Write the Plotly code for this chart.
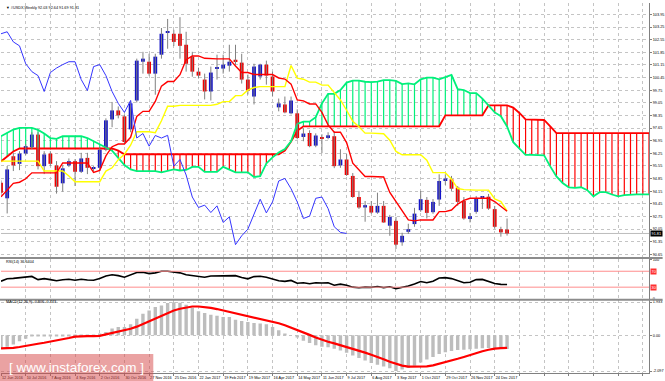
import plotly.graph_objects as go

# ---------------- data ----------------
TITLE = "#USDX,Weekly 92.03 92.64 91.69 91.81"
LAST_PRICE = 91.81

# weekly bars, first bar = week of 12 Jun 2016
OPEN = [94.62, 93.76, 96.09, 95.67, 96.24, 96.59, 97.29, 95.54, 96.24, 95.58,
        94.59, 95.58, 95.82, 95.23, 96.00, 95.40, 95.45, 96.46, 98.13, 98.63,
        98.30, 97.58, 99.18, 101.33, 101.33, 100.67, 101.72, 102.95, 102.88, 102.88,
        102.27, 101.61, 100.78, 100.34, 99.68, 100.95, 100.95, 101.11, 101.44, 101.28,
        100.34, 99.40, 100.51, 101.17, 100.51, 98.80, 98.96, 98.47, 98.47, 97.16,
        97.38, 96.68, 97.13, 97.10, 97.20, 95.58, 95.91, 95.00, 93.83, 93.25,
        93.34, 92.97, 93.34, 92.24, 92.51, 91.32, 91.90, 92.33, 93.10, 93.67,
        92.99, 93.69, 94.75, 94.81, 94.35, 93.61, 92.66, 93.01, 93.80, 93.85,
        93.16, 92.05, 92.03]
HIGH = [94.75, 95.55, 96.26, 96.37, 96.76, 97.42, 97.42, 96.37, 96.37, 95.82,
        95.58, 95.97, 95.93, 96.28, 96.28, 95.54, 96.59, 98.19, 99.10, 98.85,
        98.41, 99.18, 101.50, 101.88, 101.77, 101.77, 103.20, 103.70, 103.10, 103.80,
        102.99, 101.88, 101.00, 100.67, 101.06, 101.72, 101.72, 102.27, 102.27, 101.77,
        100.62, 101.22, 101.22, 101.39, 100.78, 99.29, 99.40, 99.40, 98.69, 97.64,
        97.53, 97.36, 97.31, 97.42, 97.47, 96.48, 96.21, 95.16, 94.17, 93.61,
        93.61, 94.07, 93.61, 92.84, 92.73, 91.85, 92.35, 93.23, 94.17, 93.83,
        93.72, 95.09, 95.09, 95.00, 94.44, 93.83, 92.95, 93.89, 93.89, 94.00,
        93.34, 92.18, 92.64]
LOW = [93.95, 92.92, 95.27, 95.32, 96.15, 96.48, 95.36, 95.10, 95.54, 94.02,
       94.13, 95.49, 94.44, 95.16, 95.10, 95.27, 95.27, 96.37, 97.70, 98.19,
       96.76, 97.42, 99.07, 100.67, 100.56, 99.50, 101.50, 102.05, 102.20, 101.50,
       100.78, 100.50, 100.40, 99.24, 99.18, 100.34, 100.67, 100.78, 101.17, 100.12,
       99.51, 98.96, 100.34, 100.06, 99.40, 98.58, 98.47, 98.41, 97.03, 96.92,
       96.59, 96.59, 96.26, 97.03, 95.43, 95.45, 95.00, 93.78, 93.17, 92.46,
       92.90, 92.90, 92.40, 91.68, 90.95, 91.13, 91.79, 92.18, 93.01, 92.64,
       92.90, 93.34, 94.50, 94.17, 93.34, 92.57, 92.42, 92.90, 93.17, 93.12,
       92.07, 91.63, 91.69]
CLOSE = [94.07, 95.36, 95.58, 96.24, 96.65, 97.29, 95.54, 96.19, 95.67, 94.40,
         95.42, 95.82, 95.23, 95.97, 95.45, 95.42, 96.46, 98.08, 98.63, 98.36,
         96.88, 99.02, 101.39, 101.50, 100.67, 101.61, 102.88, 102.99, 102.43, 102.21,
         101.22, 100.78, 100.56, 99.68, 100.73, 100.98, 101.17, 101.33, 101.33, 100.34,
         99.73, 101.06, 101.17, 100.56, 99.68, 99.02, 98.52, 99.18, 97.10, 97.35,
         96.65, 97.24, 97.10, 97.25, 95.54, 95.91, 95.05, 93.83, 93.25, 93.38,
         92.97, 93.34, 92.42, 92.73, 91.19, 91.68, 92.05, 92.91, 93.71, 92.95,
         93.56, 94.72, 94.86, 94.29, 93.56, 92.64, 92.77, 93.76, 93.83, 93.19,
         92.18, 91.87, 91.81]

TENKAN = [93.85, 94.24, 94.59, 94.65, 94.84, 95.17, 95.17, 95.17, 95.17, 95.17,
          95.72, 95.72, 95.72, 95.72, 95.72, 95.20, 95.31, 96.11, 96.62, 96.77,
          96.77, 97.14, 98.30, 98.58, 98.58, 99.13, 99.98, 100.23, 100.23, 100.61,
          101.44, 101.65, 101.65, 101.52, 101.49, 101.49, 101.49, 101.49, 101.09, 100.73,
          100.73, 100.62, 100.62, 100.62, 100.62, 100.43, 100.37, 100.09, 99.21, 99.16,
          98.99, 98.99, 98.52, 97.83, 97.42, 97.42, 96.85, 95.71, 95.35, 94.97,
          94.97, 94.97, 94.94, 94.08, 93.58, 93.06, 92.56, 92.51, 92.56, 92.56,
          92.56, 93.02, 93.02, 93.11, 93.44, 93.64, 93.76, 93.76, 93.76, 93.76,
          93.58, 93.32, 93.04]
KIJUN = [95.82, 95.82, 95.82, 95.82, 95.82, 95.82, 95.82, 95.27, 95.27, 95.27,
         95.27, 95.00, 94.68, 94.68, 94.68, 94.68, 94.68, 95.27, 95.45, 95.90,
         96.20, 96.70, 97.45, 97.45, 97.45, 97.40, 98.06, 98.86, 98.86, 98.91,
         98.91, 98.91, 98.91, 98.91, 98.91, 98.97, 99.12, 99.12, 99.45, 99.45,
         99.75, 99.90, 99.95, 99.95, 99.95, 99.95, 99.95, 101.12, 100.42, 100.36,
         100.20, 100.20, 100.03, 100.03, 99.62, 99.21, 98.64, 98.03, 97.72, 97.37,
         97.37, 97.37, 97.34, 96.98, 96.36, 96.17, 96.17, 96.17, 96.17, 95.87,
         95.18, 95.18, 95.18, 94.82, 94.30, 94.24, 94.21, 94.21, 94.21, 94.21,
         93.72, 93.58, 93.06]
# cloud spans, one value per bar position (they run 26 bars past the last candle)
SPAN_A = [97.20, 97.40, 97.57, 97.66, 97.66, 97.66, 97.55, 97.35, 97.10, 97.05,
          97.20, 97.20, 97.20, 97.20, 97.10, 96.92, 96.75, 96.60, 96.40, 96.00,
          95.60, 95.36, 95.27, 95.27, 95.27, 95.27, 95.20, 95.30, 95.36, 95.30,
          95.33, 95.50, 95.50, 95.22, 95.22, 95.22, 95.50, 95.36, 95.20, 95.20,
          95.20, 94.94, 94.99, 95.69, 96.03, 96.30, 96.49, 96.92, 97.88, 98.01,
          98.01, 98.26, 99.02, 99.55, 99.55, 99.76, 100.17, 100.28, 100.28, 100.22,
          100.20, 100.23, 100.31, 100.31, 100.27, 100.09, 100.13, 100.08, 100.35, 100.45,
          100.45, 100.35, 100.49, 100.60, 99.81, 99.76, 99.59, 99.59, 99.28, 98.93,
          98.52, 98.31, 97.74, 96.87, 96.54, 96.17, 96.17, 96.17, 96.14, 95.53,
          94.97, 94.61, 94.37, 94.34, 94.37, 94.21, 93.87, 94.10, 94.10, 93.97,
          93.87, 93.94, 93.98, 93.98, 93.98, 93.98, 93.65, 93.45, 93.05]
SPAN_B = [95.80, 96.10, 96.35, 96.52, 96.52, 96.52, 96.52, 96.52, 96.52, 96.52,
          96.52, 96.52, 96.52, 96.52, 96.52, 96.52, 96.52, 96.52, 96.52, 96.40,
          96.20, 96.20, 96.20, 96.20, 96.20, 96.20, 96.20, 96.20, 96.20, 96.20,
          96.20, 96.20, 96.20, 96.20, 96.20, 96.20, 96.20, 96.20, 96.20, 96.20,
          96.20, 96.20, 96.20, 96.20, 96.20, 96.20, 96.40, 96.90, 97.50, 97.75,
          97.75, 97.75, 97.75, 97.75, 97.75, 97.75, 97.75, 97.75, 97.75, 97.75,
          97.75, 97.75, 97.75, 97.75, 97.75, 97.75, 97.75, 97.75, 97.75, 97.75,
          97.75, 97.75, 98.36, 98.36, 98.36, 98.36, 98.36, 98.36, 98.36, 98.91,
          98.91, 98.91, 98.91, 98.79, 98.49, 98.13, 98.13, 98.13, 98.10, 97.74,
          97.375, 97.375, 97.375, 97.375, 97.375, 97.375, 97.375, 97.375, 97.375, 97.375,
          97.375, 97.375, 97.375, 97.375, 97.375, 97.375, 97.375, 96.97, 96.61]
CHIKOU_SHIFT = 26

RSI = [45, 51, 52, 53.5, 55, 57, 49, 51.5, 49, 46,
       48.5, 50, 47.5, 50, 48, 47.5, 52, 58, 61, 59,
       55, 60, 67, 67.5, 64, 66, 70, 70, 68, 66,
       61, 58.5, 57.5, 55, 58, 58.5, 59, 59.5, 59, 54.5,
       51, 56.5, 57.5, 55, 51, 46, 44.5, 47, 40, 41,
       38.5, 41, 40.5, 41, 35, 37.5, 35, 30, 28.5, 30,
       29.5, 31.5, 29, 31, 26.5, 29, 33, 38, 44, 41,
       45, 53, 54, 51.5, 46.5, 41, 42.5, 49, 49.5, 45,
       39, 37, 36.64]
RSI_LEVELS = [70, 30]
RSI_LABEL = "RSI(14) 36.6404"

MACD_MAIN = [-0.79, -0.68, -0.54, -0.35, -0.20, -0.08, -0.05, -0.03, -0.04, -0.06,
             -0.05, -0.03, -0.04, -0.02, -0.01, -0.01, 0.08, 0.19, 0.39, 0.48,
             0.48, 0.64, 0.97, 1.26, 1.45, 1.65, 1.74, 1.88, 1.933, 1.90,
             1.78, 1.61, 1.40, 1.30, 1.20, 1.14, 1.07, 1.07, 0.91, 0.83,
             0.78, 0.72, 0.68, 0.64, 0.48, 0.29, 0.10, 0.0, -0.14, -0.33,
             -0.45, -0.58, -0.68, -0.70, -0.79, -0.89, -1.02, -1.18, -1.33, -1.48,
             -1.62, -1.72, -1.83, -1.93, -2.097, -2.00, -1.92, -1.78, -1.60, -1.42,
             -1.27, -1.10, -1.00, -0.92, -0.87, -0.85, -0.82, -0.79, -0.76, -0.75,
             -0.75, -0.78, -0.806]
MACD_SIGNAL = [-0.77, -0.77, -0.74, -0.69, -0.64, -0.57, -0.50, -0.44, -0.38, -0.31,
               -0.23, -0.16, -0.08, -0.05, -0.05, -0.05, -0.04, 0.05, 0.13, 0.20,
               0.27, 0.38, 0.50, 0.66, 0.78, 0.95, 1.13, 1.30, 1.45, 1.55,
               1.63, 1.68, 1.68, 1.66, 1.60, 1.53, 1.45, 1.36, 1.28, 1.20,
               1.12, 1.05, 0.98, 0.90, 0.81, 0.70, 0.58, 0.45, 0.30, 0.16,
               0.02, -0.13, -0.27, -0.38, -0.48, -0.58, -0.68, -0.78, -0.90, -1.02,
               -1.14, -1.26, -1.40, -1.55, -1.68, -1.78, -1.84, -1.84, -1.84, -1.82,
               -1.76, -1.67, -1.60, -1.50, -1.38, -1.27, -1.15, -1.03, -0.94, -0.85,
               -0.78, -0.76, -0.743]
MACD_TICKS = [1.933, 0.0, -2.097]
MACD_TICK_TEXT = ["1.933", "0.00", "-2.097"]
MACD_LABEL = "MACD(12,26,9) -0.806 -0.743"

DATE_LABELS = ["12 Jun 2016", "10 Jul 2016", "7 Aug 2016", "4 Sep 2016", "2 Oct 2016",
               "30 Oct 2016", "27 Nov 2016", "25 Dec 2016", "22 Jan 2017", "19 Feb 2017",
               "19 Mar 2017", "16 Apr 2017", "14 May 2017", "11 Jun 2017", "9 Jul 2017",
               "6 Aug 2017", "3 Sep 2017", "1 Oct 2017", "29 Oct 2017", "26 Nov 2017",
               "24 Dec 2017"]
PRICE_TICKS = [90.65, 91.35, 92.05, 92.75, 93.45, 94.15, 94.85, 95.55, 96.25, 96.95,
               97.65, 98.35, 99.05, 99.75, 100.45, 101.15, 101.85, 102.55, 103.25, 103.95]

# ---------------- styling ----------------
FONT = "Liberation Sans, Arial, sans-serif"
SMALL = 3.8
GRID = "#C4C4C4"
BULL = "#1414C8"
BEAR = "#F00000"
WICK = "#808080"
GREEN = "#00F07A"
RED = "#FF0000"
N_VIEW = 105  # bars visible across the plot width

n = len(CLOSE)
bars = list(range(n))
positions = list(range(len(SPAN_A)))

fig = go.Figure()

# bid line
fig.add_shape(type="line", xref="x", yref="y", x0=0, x1=N_VIEW, y0=LAST_PRICE, y1=LAST_PRICE,
              line=dict(color="#BDBDBD", width=1), layer="below")

# cloud hatching
gx, gy, rx, ry = [], [], [], []
for p, a, b in zip(positions, SPAN_A, SPAN_B):
    if a >= b:
        gx += [p, p, None]; gy += [a, b, None]
    else:
        rx += [p, p, None]; ry += [a, b, None]
fig.add_trace(go.Scatter(x=gx, y=gy, mode="lines", line=dict(color=GREEN, width=1.2),
                         xaxis="x", yaxis="y", hoverinfo="skip"))
fig.add_trace(go.Scatter(x=rx, y=ry, mode="lines", line=dict(color=RED, width=1.2),
                         xaxis="x", yaxis="y", hoverinfo="skip"))
fig.add_trace(go.Scatter(x=positions, y=SPAN_B, mode="lines", line=dict(color=RED, width=1.8),
                         xaxis="x", yaxis="y"))
fig.add_trace(go.Scatter(x=positions, y=SPAN_A, mode="lines", line=dict(color=GREEN, width=1.8),
                         xaxis="x", yaxis="y"))

# wicks
wx, wy = [], []
for i, h, l in zip(bars, HIGH, LOW):
    wx += [i, i, None]; wy += [l, h, None]
fig.add_trace(go.Scatter(x=wx, y=wy, mode="lines", line=dict(color=WICK, width=1),
                         xaxis="x", yaxis="y", hoverinfo="skip"))

# bodies
for up, col in ((True, BULL), (False, BEAR)):
    xs, base, hgt = [], [], []
    for i, o, c in zip(bars, OPEN, CLOSE):
        if (c >= o) == up:
            xs.append(i)
            base.append(min(o, c))
            hgt.append(max(abs(c - o), 0.05))
    fig.add_trace(go.Bar(x=xs, y=hgt, base=base, width=0.62, marker=dict(color=col, line=dict(width=0)),
                         xaxis="x", yaxis="y"))

# tenkan / kijun / chikou
fig.add_trace(go.Scatter(x=bars, y=KIJUN, mode="lines", line=dict(color="#FFFF00", width=1.4),
                         xaxis="x", yaxis="y"))
fig.add_trace(go.Scatter(x=bars, y=TENKAN, mode="lines", line=dict(color=RED, width=1.4),
                         xaxis="x", yaxis="y"))
fig.add_trace(go.Scatter(x=[i - CHIKOU_SHIFT for i in bars[CHIKOU_SHIFT:]], y=CLOSE[CHIKOU_SHIFT:],
                         mode="lines", line=dict(color="#3535FF", width=1), xaxis="x", yaxis="y"))

# RSI
for lv in RSI_LEVELS:
    fig.add_shape(type="line", xref="x2", yref="y2", x0=0, x1=N_VIEW, y0=lv, y1=lv,
                  line=dict(color="#FF8C8C", width=1))
fig.add_trace(go.Scatter(x=bars, y=RSI, mode="lines", line=dict(color="black", width=1.6),
                         xaxis="x2", yaxis="y2"))

# MACD
fig.add_trace(go.Bar(x=bars, y=MACD_MAIN, width=0.55, marker=dict(color="#BDBDBD", line=dict(width=0)),
                     xaxis="x3", yaxis="y3"))
fig.add_trace(go.Scatter(x=bars, y=MACD_SIGNAL, mode="lines", line=dict(color=RED, width=2.2),
                         xaxis="x3", yaxis="y3"))

grid_x = list(range(0, N_VIEW, 4))
grid_text = [DATE_LABELS[k] if k < len(DATE_LABELS) else "" for k in range(len(grid_x))]

xcommon = dict(range=[0, N_VIEW], tickvals=grid_x, showgrid=True, gridcolor=GRID, griddash="dot",
               gridwidth=1, zeroline=False, domain=[0, 1], fixedrange=True)
tickfont = dict(family=FONT, size=SMALL, color="black")

fig.update_layout(
    width=665, height=381,
    margin=dict(l=1, r=13, t=1, b=8, pad=0),
    paper_bgcolor="white", plot_bgcolor="white",
    showlegend=False, barmode="overlay",
    xaxis=dict(anchor="y", showticklabels=False, ticks="", **xcommon),
    xaxis2=dict(anchor="y2", showticklabels=False, ticks="", **xcommon),
    xaxis3=dict(anchor="y3", ticktext=grid_text, showticklabels=True, ticks="outside", ticklen=2,
                tickcolor="#808080", ticklabelposition="outside right", tickangle=0, tickfont=tickfont,
                showline=True, linecolor="#808080", linewidth=1, **xcommon),
    yaxis=dict(domain=[0.3132, 1], range=[90.499, 104.585], side="right", tickvals=PRICE_TICKS,
               ticktext=[f"{v:.2f}" for v in PRICE_TICKS], tickfont=tickfont, showgrid=True,
               gridcolor=GRID, griddash="dot", zeroline=False, showline=True, linecolor="#808080",
               ticks="outside", ticklen=2, tickcolor="#808080", fixedrange=True),
    yaxis2=dict(domain=[0.1997, 0.3073], range=[0, 100], side="right", tickvals=[100, 0],
                ticktext=["100", "0"], tickfont=tickfont, showgrid=False, zeroline=False,
                showline=True, linecolor="#808080", ticks="outside", ticklen=2, tickcolor="#808080",
                fixedrange=True),
    yaxis3=dict(domain=[0, 0.1962], range=[-2.209, 2.035], side="right", tickvals=MACD_TICKS,
                ticktext=MACD_TICK_TEXT, tickfont=tickfont, showgrid=True, gridcolor=GRID,
                griddash="dot", zeroline=False, showline=True, linecolor="#808080", ticks="outside",
                ticklen=2, tickcolor="#808080", fixedrange=True),
)

# panel separators
for yp in (0.3105, 0.1981):
    fig.add_shape(type="line", xref="paper", yref="paper", x0=-0.002, x1=1.021, y0=yp, y1=yp,
                  line=dict(color="#8C8C8C", width=2), layer="above")

ann_font = dict(family=FONT, size=SMALL, color="black")
fig.add_annotation(xref="paper", yref="paper", x=0.004, y=0.9985, xanchor="left", yanchor="top",
                   text="\u25bc " + TITLE, showarrow=False, font=ann_font)
fig.add_annotation(xref="paper", yref="paper", x=0.004, y=0.2995, xanchor="left", yanchor="middle",
                   text=RSI_LABEL, showarrow=False, font=ann_font)
fig.add_annotation(xref="paper", yref="paper", x=0.004, y=0.1917, xanchor="left", yanchor="middle",
                   text=MACD_LABEL, showarrow=False, font=ann_font)

# price / level boxes on the right scale
fig.add_annotation(xref="paper", yref="y", x=1.001, y=LAST_PRICE, xanchor="left", yanchor="middle",
                   text=f"{LAST_PRICE:.2f}", showarrow=False, bgcolor="black", borderpad=0.6,
                   font=dict(family=FONT, size=SMALL, color="white"))
for lv in RSI_LEVELS:
    fig.add_annotation(xref="paper", yref="y2", x=1.001, y=lv, xanchor="left", yanchor="middle",
                       text=str(lv), showarrow=False, bgcolor="#FF3030", borderpad=0.6,
                       font=dict(family=FONT, size=SMALL, color="white"))

# watermark
fig.add_shape(type="rect", xref="paper", yref="paper", x0=-0.002, x1=0.235, y0=-0.0215, y1=0.0511,
              fillcolor="rgba(214,70,70,0.5)", line=dict(width=0), layer="above")
fig.add_annotation(xref="paper", yref="paper", x=0.1167, y=0.0161, xanchor="center", yanchor="middle",
                   text="[ www.instaforex.com ]", showarrow=False,
                   font=dict(family=FONT, size=13.5, color="white"))

fig.write_html("out.html", config={"displayModeBar": False},
               post_script="document.body.style.margin='0';document.body.style.overflow='hidden';")
